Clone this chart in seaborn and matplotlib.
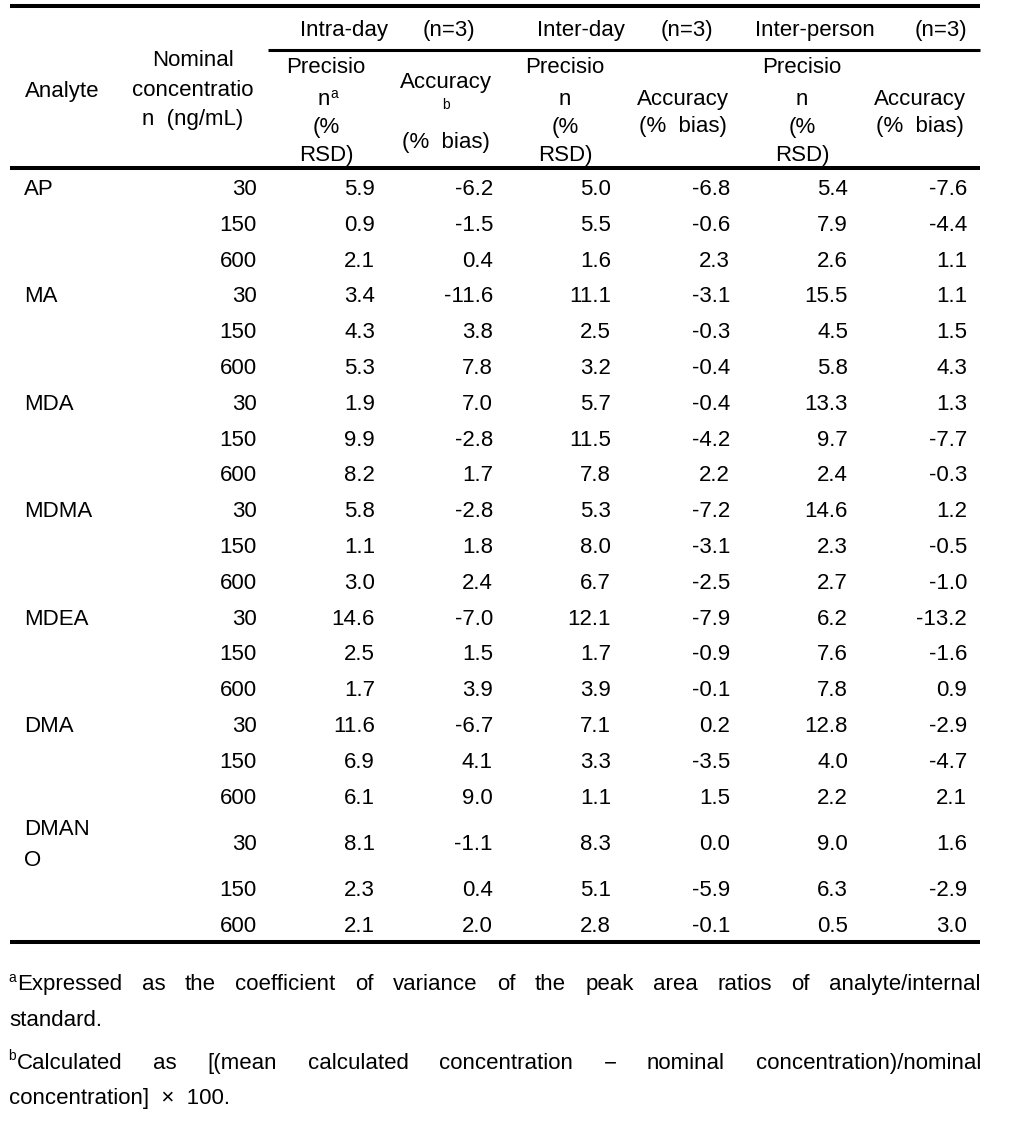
import numpy as np
import pandas as pd
import matplotlib
matplotlib.use("Agg")
import matplotlib.pyplot as plt
import seaborn as sns

# table values
analytes = ["AP", "MA", "MDA", "MDMA", "MDEA", "DMA", "DMANO"]
nominal = [30, 150, 600]

intra_prec = [5.9, 0.9, 2.1, 3.4, 4.3, 5.3, 1.9, 9.9, 8.2, 5.8, 1.1, 3.0,
              14.6, 2.5, 1.7, 11.6, 6.9, 6.1, 8.1, 2.3, 2.1]
intra_acc = [-6.2, -1.5, 0.4, -11.6, 3.8, 7.8, 7.0, -2.8, 1.7, -2.8, 1.8, 2.4,
             -7.0, 1.5, 3.9, -6.7, 4.1, 9.0, -1.1, 0.4, 2.0]
inter_prec = [5.0, 5.5, 1.6, 11.1, 2.5, 3.2, 5.7, 11.5, 7.8, 5.3, 8.0, 6.7,
              12.1, 1.7, 3.9, 7.1, 3.3, 1.1, 8.3, 5.1, 2.8]
inter_acc = [-6.8, -0.6, 2.3, -3.1, -0.3, -0.4, -0.4, -4.2, 2.2, -7.2, -3.1, -2.5,
             -7.9, -0.9, -0.1, 0.2, -3.5, 1.5, 0.0, -5.9, -0.1]
person_prec = [5.4, 7.9, 2.6, 15.5, 4.5, 5.8, 13.3, 9.7, 2.4, 14.6, 2.3, 2.7,
               6.2, 7.6, 7.8, 12.8, 4.0, 2.2, 9.0, 6.3, 0.5]
person_acc = [-7.6, -4.4, 1.1, 1.1, 1.5, 4.3, 1.3, -7.7, -0.3, 1.2, -0.5, -1.0,
              -13.2, -1.6, 0.9, -2.9, -4.7, 2.1, 1.6, -2.9, 3.0]

groups = ["Intra-day", "Inter-day", "Inter-person"]
footnote_a = "Expressed as the coefficient of variance of the peak area ratios of analyte/internal"
footnote_a2 = "standard."
footnote_b = "Calculated as [(mean calculated concentration \u2212 nominal concentration)/nominal"
footnote_b2 = "concentration]  \u00d7  100."

df = pd.DataFrame({
    "analyte": [a for a in analytes for _ in nominal],
    "nominal": nominal * len(analytes),
    "intra_prec": intra_prec, "intra_acc": intra_acc,
    "inter_prec": inter_prec, "inter_acc": inter_acc,
    "person_prec": person_prec, "person_acc": person_acc,
})

sns.set_theme(style="white")
plt.rcParams["font.family"] = ["Liberation Sans", "DejaVu Sans"]
FS = 16
SUP = 10
DY = 2.5  # small vertical nudge so text sits like the original

fig = plt.figure(figsize=(10.19, 11.38), dpi=100)
ax = fig.add_axes([0, 0, 1, 1])
ax.set_xlim(0, 1019)
ax.set_ylim(1138, 0)
ax.axis("off")

def txt(x, y, s, ha="center", size=FS, **kw):
    return ax.text(x, y + DY, s, ha=ha, va="center", fontsize=size, color="black", **kw)

# rules
L, R = 10, 980
ax.plot([L, R], [6, 6], color="black", lw=2.9, solid_capstyle="butt")
ax.plot([268, R], [50, 50], color="black", lw=2.2, solid_capstyle="butt")
ax.plot([L, R], [168, 168], color="black", lw=2.9, solid_capstyle="butt")

# group headers
grp_left = [300, 537, 755]
grp_right = [475, 713, 967]
for g, xl, xr in zip(groups, grp_left, grp_right):
    txt(xl, 28, g, ha="left")
    txt(xr, 28, "(n=3)", ha="right")

# column headers
txt(25, 89, "Analyte", ha="left")
for s, y in zip(["Nominal", "concentratio", "n  (ng/mL)"], [58, 88, 117]):
    txt(193, y, s)

prec_cx = [326, 565, 802]
acc_cx = [446, 683, 920]
for i, cx in enumerate(prec_cx):
    txt(cx, 65, "Precisio")
    if i == 0:
        txt(cx - 2, 97, "n")
        txt(cx + 4, 91, "a", ha="left", size=SUP)
    else:
        txt(cx, 97, "n")
    txt(cx, 125, "(%")
    txt(cx, 153, "RSD)")
txt(acc_cx[0], 80, "Accuracy")
txt(acc_cx[0], 102, "b", size=SUP)
txt(acc_cx[0], 140, "(%  bias)")
for cx in acc_cx[1:]:
    txt(cx, 97, "Accuracy")
    txt(cx, 124, "(%  bias)")

# data rows
row_h = np.array([35.8] * 18 + [57, 35.8, 35.8])
tops = 169 + np.concatenate([[0], np.cumsum(row_h)[:-1]])
centers = tops + row_h / 2
bottom = 169 + row_h.sum()

num_right = [257, 375, 493, 611, 730, 848, 967]
cols = ["nominal", "intra_prec", "intra_acc", "inter_prec", "inter_acc",
        "person_prec", "person_acc"]
for i, row in df.iterrows():
    y = centers[i]
    if i % 3 == 0:
        name = row["analyte"]
        if name == "DMANO":
            txt(24, y - 15, "DMAN", ha="left")
            txt(24, y + 16, "O", ha="left")
        else:
            txt(24, y, name, ha="left")
    for c, xr in zip(cols, num_right):
        v = row[c]
        s = str(int(v)) if c == "nominal" else f"{v:.1f}"
        txt(xr, y, s, ha="right")

ax.plot([L, R], [bottom, bottom], color="black", lw=2.9, solid_capstyle="butt")

# footnotes (justified)
renderer = fig.canvas.get_renderer()

def justify(line, y, x0, x1):
    words = line.split(" ")
    items = [txt(0, y, w, ha="left") for w in words]
    widths = [t.get_window_extent(renderer).width for t in items]
    gap = (x1 - x0 - sum(widths)) / (len(words) - 1)
    x = x0
    for t, w in zip(items, widths):
        t.set_x(x)
        x += w + gap

txt(8, 975, "a", ha="left", size=SUP)
justify(footnote_a, 982, 17, 981)
txt(9, 1018, footnote_a2, ha="left")
txt(8, 1054, "b", ha="left", size=SUP)
justify(footnote_b, 1061, 17, 981)
txt(9, 1096, footnote_b2, ha="left")

fig.savefig("out.png", dpi=100)
